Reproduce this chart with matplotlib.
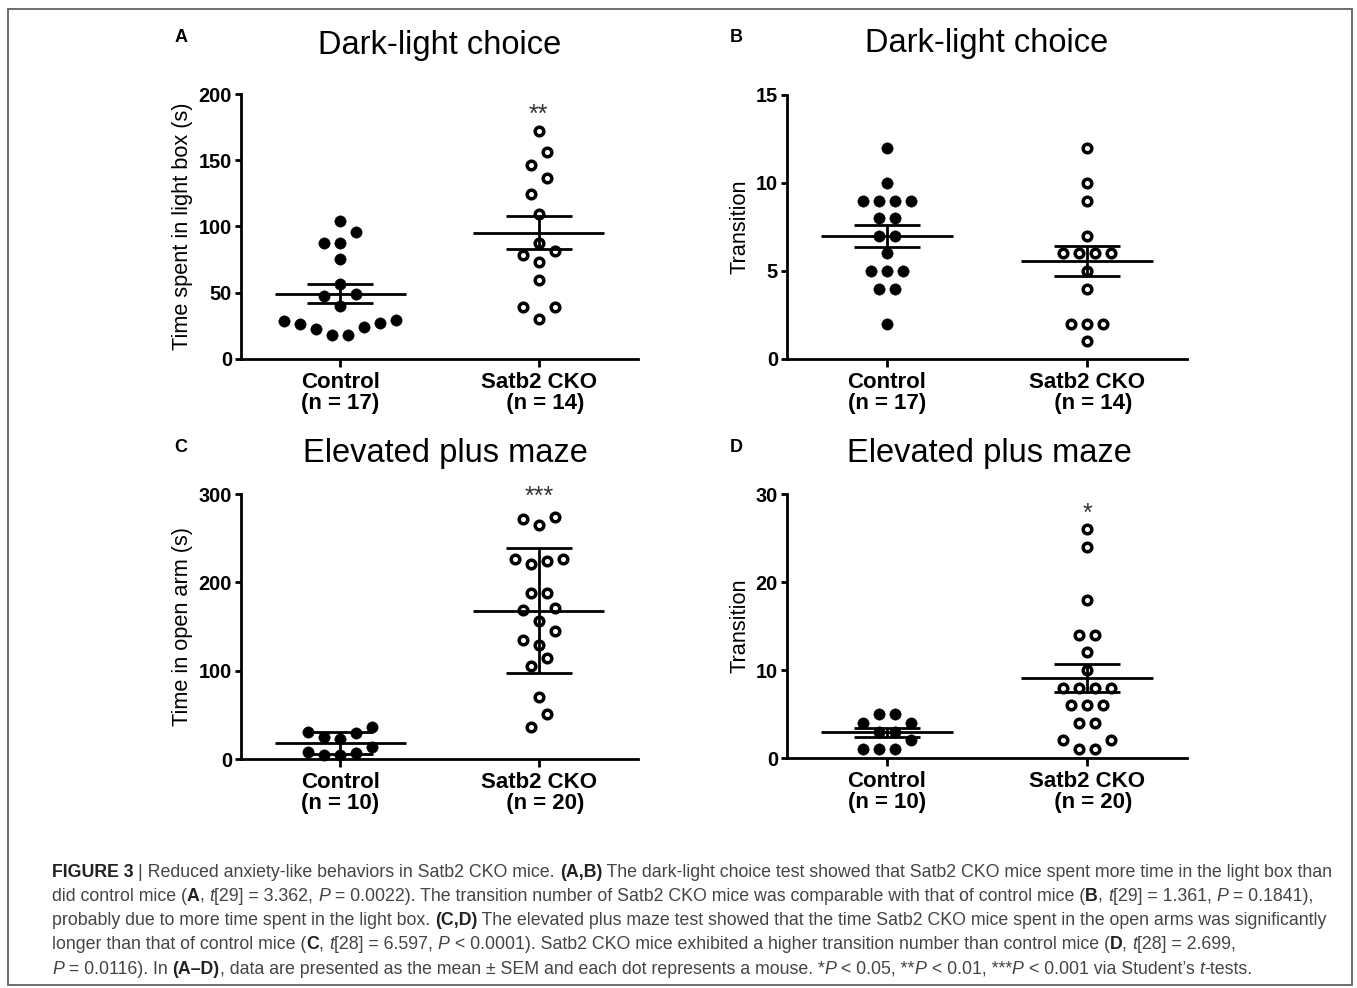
import numpy as np
import matplotlib
matplotlib.use('Agg')
import matplotlib.pyplot as plt
from matplotlib.font_manager import FontProperties
from matplotlib.transforms import IdentityTransform
from matplotlib.patches import Rectangle

W, H, DPI = 1357, 988, 100
FONT = 'Liberation Sans'
plt.rcParams['font.family'] = [FONT, 'DejaVu Sans']

# ---------------- data ----------------
groups = ['Control', 'Satb2 CKO']

a_control = [104.2, 96, 87.8, 87.8, 75.5, 56.4, 47.3, 49, 40, 28.9, 26.2, 22.9,
             18, 18, 24.4, 27.2, 29.4]
a_cko = [172.1, 156.5, 146.4, 136.4, 124.5, 109.4, 87.3, 81.5, 78.5, 73.4, 59.6,
         39.5, 39.5, 30]

b_control = [12, 10, 9, 9, 9, 9, 8, 8, 7, 7, 6, 5, 5, 5, 4, 4, 2]
b_cko = [12, 10, 9, 7, 6, 6, 6, 6, 5, 4, 2, 2, 2, 1]

c_control = [30.2, 24.9, 22.3, 29.1, 36.6, 13.8, 6.6, 4.0, 4.0, 8.3]
c_cko = [273.5, 272, 264.5, 226.1, 220.4, 223.8, 226.1, 187.5, 187.5, 171, 168.4,
         156.2, 144.5, 134.7, 128.7, 114, 104.9, 69.8, 51.3, 36.2]

d_control = [5, 5, 4, 4, 3, 3, 2, 1, 1, 1]
d_cko = [26, 24, 18, 14, 14, 12, 10, 8, 8, 8, 8, 6, 6, 6, 4, 4, 2, 2, 1, 1]

titles = ['Dark-light choice', 'Dark-light choice', 'Elevated plus maze', 'Elevated plus maze']
letters = ['A', 'B', 'C', 'D']
ylabels = ['Time spent in light box (s)', 'Transition', 'Time in open arm (s)', 'Transition']
yticks = [[0, 50, 100, 150, 200], [0, 5, 10, 15], [0, 100, 200, 300], [0, 10, 20, 30]]
error_kind = ['sem', 'sem', 'sd', 'sem']
stars = ['**', '', '***', '*']
star_y = [179, None, 289, 26.9]

caption = [
    [("FIGURE 3 ", 'b'), ("| Reduced anxiety-like behaviors in Satb2 CKO mice. ", ''), ("(A,B)", 'b'),
     (" The dark-light choice test showed that Satb2 CKO mice spent more time in the light box than", '')],
    [("did control mice (", ''), ("A", 'b'), (", ", ''), ("t", 'i'), ("[29] = 3.362, ", ''), ("P", 'i'),
     (" = 0.0022). The transition number of Satb2 CKO mice was comparable with that of control mice (", ''),
     ("B", 'b'), (", ", ''), ("t", 'i'), ("[29] = 1.361, ", ''), ("P", 'i'), (" = 0.1841),", '')],
    [("probably due to more time spent in the light box. ", ''), ("(C,D)", 'b'),
     (" The elevated plus maze test showed that the time Satb2 CKO mice spent in the open arms was significantly", '')],
    [("longer than that of control mice (", ''), ("C", 'b'), (", ", ''), ("t", 'i'), ("[28] = 6.597, ", ''),
     ("P", 'i'), (" < 0.0001). Satb2 CKO mice exhibited a higher transition number than control mice (", ''),
     ("D", 'b'), (", ", ''), ("t", 'i'), ("[28] = 2.699,", '')],
    [("P", 'i'), (" = 0.0116). In ", ''), ("(A\u2013D)", 'b'),
     (", data are presented as the mean \u00b1 SEM and each dot represents a mouse. *", ''), ("P", 'i'),
     (" < 0.05, **", ''), ("P", 'i'), (" < 0.01, ***", ''), ("P", 'i'), (" < 0.001 via Student\u2019s ", ''),
     ("t", 'i'), ("-tests.", '')],
]

panel_data = [(a_control, a_cko), (b_control, b_cko), (c_control, c_cko), (d_control, d_cko)]

# ---------------- layout ----------------
fig = plt.figure(figsize=(W / DPI, H / DPI), dpi=DPI)
fig.patch.set_facecolor('white')

rects = [(241, 94, 638, 359), (787, 95, 1187, 359), (241, 494, 638, 759), (787, 494, 1187, 758)]
title_pos = [(440, 53.5), (987, 52), (445, 462), (989, 462)]
letter_pos = [(181, 41.5), (736, 41.5), (181, 452), (736, 452)]

LW = 2.0


def add_ax(l, t, r, b):
    return fig.add_axes([l / W, 1 - b / H, (r - l) / W, (b - t) / H])


def swarm_x(ax, center, values, half_px=8.0, row_px=16.0):
    vals = np.asarray(values, float)
    pts = np.column_stack([np.full(len(vals), center), vals])
    disp_y = ax.transData.transform(pts)[:, 1]
    px_per_unit = (ax.transData.transform([(center + 1, 0)])[0, 0]
                   - ax.transData.transform([(center, 0)])[0, 0])
    order = np.argsort(vals, kind='stable')
    rows, cur = [], [order[0]]
    for idx in order[1:]:
        if disp_y[idx] - disp_y[cur[0]] <= row_px:
            cur.append(idx)
        else:
            rows.append(cur)
            cur = [idx]
    rows.append(cur)
    xs = np.full(len(vals), float(center))
    for row in rows:
        n = len(row)
        slots = [2 * i - (n - 1) for i in range(n)]
        seq = []
        lo, hi = 0, n - 1
        while lo <= hi:
            seq.append(slots[hi])
            if lo != hi:
                seq.append(slots[lo])
            lo += 1
            hi -= 1
        desc = sorted(row, key=lambda k: -vals[k])
        for k, s in zip(desc, seq):
            xs[k] = center + s * half_px / px_per_unit
    return xs


def summary(ax, center, values, kind):
    v = np.asarray(values, float)
    m = v.mean()
    sd = v.std(ddof=1)
    e = sd if kind == 'sd' else sd / np.sqrt(len(v))
    kw = dict(color='black', lw=LW, solid_capstyle='butt', zorder=4, clip_on=False)
    ax.plot([center - 0.33, center + 0.33], [m, m], **kw)
    ax.plot([center, center], [m - e, m + e], **kw)
    for y in (m - e, m + e):
        ax.plot([center - 0.165, center + 0.165], [y, y], **kw)


for i in range(4):
    ax = add_ax(*rects[i])
    ctrl, cko = panel_data[i]
    ax.set_xlim(-0.5, 1.5)
    ax.set_ylim(yticks[i][0], yticks[i][-1])
    for s in ['top', 'right']:
        ax.spines[s].set_visible(False)
    for s in ['left', 'bottom']:
        ax.spines[s].set_linewidth(LW)
        ax.spines[s].set_capstyle('projecting')
    ax.set_yticks(yticks[i])
    ax.set_yticklabels([str(t) for t in yticks[i]], fontweight='bold', fontsize=14.4)
    n1, n2 = len(ctrl), len(cko)
    ax.set_xticks([0, 1])
    ax.set_xticklabels([f'{groups[0]}\n(n = {n1})', f'{groups[1]}\n  (n = {n2})'],
                       fontweight='bold', fontsize=16, linespacing=1.0)
    ax.tick_params(axis='y', length=4.5, width=LW, pad=2)
    ax.tick_params(axis='x', length=5.5, width=LW, pad=4)
    ax.set_ylabel(ylabels[i], fontsize=15.7, labelpad=4)

    x0 = swarm_x(ax, 0, ctrl)
    x1 = swarm_x(ax, 1, cko)
    ax.plot(x0, ctrl, 'o', ms=8.2, mfc='black', mec='black', mew=0.3, ls='none',
            zorder=3, clip_on=False)
    ax.plot(x1, cko, 'o', ms=6.2, mfc='white', mec='black', mew=2.5, ls='none',
            zorder=3, clip_on=False)
    summary(ax, 0, ctrl, error_kind[i])
    summary(ax, 1, cko, error_kind[i])

    if stars[i]:
        ax.text(1, star_y[i], stars[i], ha='center', va='baseline', fontsize=18,
                color='#333333', clip_on=False)

    tx, ty = title_pos[i]
    fig.text(tx, H - ty, titles[i], transform=IdentityTransform(), ha='center',
             va='baseline', fontsize=23.5, color='black')
    lx, ly = letter_pos[i]
    fig.text(lx, H - ly, letters[i], transform=IdentityTransform(), ha='center',
             va='baseline', fontsize=13, fontweight='bold', color='black')

# ---------------- caption ----------------
renderer = fig.canvas.get_renderer()


def fprop(style, size):
    return FontProperties(family=FONT, size=size,
                          weight='bold' if 'b' in style else 'normal',
                          style='italic' if 'i' in style else 'normal')


def run_width(text, style, size):
    fp = fprop(style, size)
    w1 = renderer.get_text_width_height_descent(text + '|', fp, ismath=False)[0]
    w0 = renderer.get_text_width_height_descent('|', fp, ismath=False)[0]
    return w1 - w0


base = 12.0
w_line1 = sum(run_width(t, s, base) for t, s in caption[0])
cap_size = base * (1338 - 52) / w_line1

for li, line in enumerate(caption):
    x = 52.0
    yb = 876.5 + 24.3 * li
    for text, style in line:
        col = '#222222' if 'b' in style else '#444444'
        fig.text(x, H - yb, text, transform=IdentityTransform(), ha='left', va='baseline',
                 fontproperties=fprop(style, cap_size), color=col)
        x += run_width(text, style, cap_size)

# outer border
fig.patches.append(Rectangle((8 / W, 1 - 985 / H), (1352 - 8) / W, (985 - 9) / H,
                             transform=fig.transFigure, fill=False, ec='#555555', lw=1.2))

fig.savefig('out.png', dpi=DPI, facecolor='white')
